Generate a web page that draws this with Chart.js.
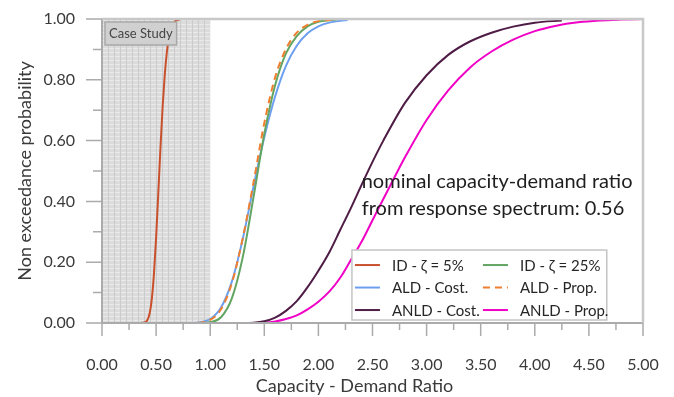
<!DOCTYPE html>
<html>
<head>
<meta charset="utf-8">
<script src="https://cdn.jsdelivr.net/npm/chart.js@4.4.0/dist/chart.umd.min.js"></script>
<style>
  html, body { margin: 0; padding: 0; background: #fff; }
</style>
</head>
<body>
<canvas id="cdf" width="674" height="397"></canvas>
<script>
// capacity-demand ratio (x) vs non exceedance probability (p)
const seriesLabels = ['ID - ζ = 5%', 'ID - ζ = 25%', 'ALD - Cost.', 'ALD - Prop.', 'ANLD - Cost.', 'ANLD - Prop.'];

const id5X = [0, 0.35, 0.40, 0.42, 0.44, 0.46, 0.48, 0.50, 0.52, 0.54, 0.56, 0.58, 0.60, 0.62, 0.65, 0.68, 0.72];
const id5P = [0, 0, 0.003, 0.010, 0.031, 0.078, 0.161, 0.280, 0.425, 0.574, 0.709, 0.816, 0.893, 0.942, 0.979, 0.994, 0.999];

const id25X = [0, 0.9, 1.0, 1.1, 1.2, 1.3, 1.4, 1.5, 1.6, 1.7, 1.8, 1.9, 2.0, 2.1, 2.17];
const id25P = [0, 0, 0.003, 0.019, 0.081, 0.215, 0.413, 0.622, 0.782, 0.887, 0.944, 0.976, 0.991, 0.996, 0.998];

const aldCostX = [0, 0.8, 0.9, 1.0, 1.1, 1.2, 1.3, 1.4, 1.5, 1.6, 1.7, 1.8, 1.9, 2.0, 2.1, 2.2, 2.27];
const aldCostP = [0, 0, 0.002, 0.013, 0.051, 0.136, 0.275, 0.448, 0.611, 0.745, 0.846, 0.912, 0.953, 0.976, 0.988, 0.994, 0.997];

const aldPropX = [0, 0.85, 0.9, 1.0, 1.1, 1.2, 1.3, 1.4, 1.5, 1.6, 1.7, 1.8, 1.9, 2.0, 2.1, 2.17];
const aldPropP = [0, 0, 0.001, 0.010, 0.045, 0.131, 0.278, 0.462, 0.658, 0.808, 0.901, 0.955, 0.981, 0.993, 0.997, 0.999];

const anldCostX = [0, 1.3, 1.4, 1.5, 1.6, 1.7, 1.8, 1.9, 2.0, 2.1, 2.2, 2.3, 2.4, 2.5, 2.6, 2.8, 3.0, 3.2, 3.4, 3.6, 3.8, 4.0, 4.25];
const anldCostP = [0, 0, 0.001, 0.006, 0.018, 0.040, 0.072, 0.118, 0.172, 0.232, 0.305, 0.378, 0.455, 0.530, 0.600, 0.724, 0.815, 0.882, 0.926, 0.955, 0.975, 0.988, 0.995];

const anldPropX = [0, 1.4, 1.5, 1.6, 1.7, 1.8, 1.9, 2.0, 2.1, 2.2, 2.3, 2.4, 2.5, 2.6, 2.7, 2.8, 3.0, 3.2, 3.4, 3.6, 3.8, 4.0, 4.2, 4.4, 4.6, 4.8, 5.0];
const anldPropP = [0, 0, 0.001, 0.005, 0.013, 0.025, 0.045, 0.070, 0.103, 0.148, 0.207, 0.268, 0.338, 0.408, 0.477, 0.545, 0.668, 0.765, 0.840, 0.893, 0.932, 0.960, 0.978, 0.989, 0.995, 0.998, 1.0];

const xTicks = [0, 0.5, 1, 1.5, 2, 2.5, 3, 3.5, 4, 4.5, 5];
const yTicks = [0, 0.2, 0.4, 0.6, 0.8, 1];
const caseStudyRange = [0, 1.0];
const noteLines = ['nominal capacity-demand ratio', 'from response spectrum: 0.56'];

const colors = ['#c9502c', '#62a462', '#6d9ff0', '#ee7f30', '#4e1c45', '#f000c6'];
const xs = [id5X, id25X, aldCostX, aldPropX, anldCostX, anldPropX];
const ps = [id5P, id25P, aldCostP, aldPropP, anldCostP, anldPropP];

const datasets = seriesLabels.map((label, i) => ({
  label: label,
  data: xs[i].map((x, j) => ({ x: x, y: ps[i][j] })),
  showLine: true,
  borderColor: colors[i],
  backgroundColor: colors[i],
  borderWidth: 2,
  borderDash: i === 3 ? [7, 5] : [],
  pointRadius: 0,
  cubicInterpolationMode: 'monotone',
  order: i === 3 ? 0 : 1 + i
}));

const FONT = 'Lato';
const TEXT = '#3a3a3a';
const AXIS = '#ababab';

function makePattern(ctx) {
  const tile = document.createElement('canvas');
  tile.width = 6; tile.height = 4;
  const t = tile.getContext('2d');
  t.fillStyle = '#dbdbdb';
  t.fillRect(0, 0, 6, 4);
  t.fillStyle = '#eaeaea';
  t.fillRect(0, 0, 6, 1);
  t.fillStyle = '#cbcbcb';
  t.fillRect(0, 0, 1, 4);
  return ctx.createPattern(tile, 'repeat');
}

const decor = {
  id: 'decor',
  beforeDatasetsDraw(chart) {
    const { ctx, chartArea: a, scales: { x } } = chart;
    const x0 = x.getPixelForValue(caseStudyRange[0]);
    const x1 = x.getPixelForValue(caseStudyRange[1]);
    ctx.save();
    ctx.fillStyle = makePattern(ctx);
    ctx.fillRect(x0, a.top, x1 - x0, a.bottom - a.top);
    ctx.restore();
  },
  afterDatasetsDraw(chart) {
    const { ctx, chartArea: a, scales: { x, y } } = chart;
    ctx.save();

    // case study tag
    const bx = x.getPixelForValue(caseStudyRange[0]) + 3;
    const by = a.top + 3;
    ctx.font = '13px ' + FONT;
    const tw = ctx.measureText('Case Study').width;
    ctx.fillStyle = '#d0d0d0';
    ctx.fillRect(bx, by, tw + 8, 23);
    ctx.strokeStyle = '#a9a9a9';
    ctx.lineWidth = 1.5;
    ctx.strokeRect(bx, by, tw + 8, 23);
    ctx.fillStyle = '#444';
    ctx.textBaseline = 'middle';
    ctx.fillText('Case Study', bx + 4, by + 12);

    // note
    ctx.font = '20px ' + FONT;
    ctx.fillStyle = '#1e1e1e';
    ctx.textBaseline = 'alphabetic';
    ctx.fillText(noteLines[0], x.getPixelForValue(2.40), y.getPixelForValue(0.444));
    ctx.fillText(noteLines[1], x.getPixelForValue(2.40), y.getPixelForValue(0.355));

    // legend, two columns
    const lx = x.getPixelForValue(2.31);
    const ly = y.getPixelForValue(0.24);
    const lw = x.getPixelForValue(4.665) - lx;
    const lh = a.bottom - 3 - ly;
    ctx.fillStyle = '#fff';
    ctx.fillRect(lx, ly, lw, lh);
    ctx.strokeStyle = '#c4c4c4';
    ctx.lineWidth = 1.5;
    ctx.strokeRect(lx, ly, lw, lh);
    ctx.font = '15px ' + FONT;
    ctx.textBaseline = 'middle';
    chart.data.datasets.forEach((ds, i) => {
      const col = i % 2, row = Math.floor(i / 2);
      const sx = lx + 3 + col * 128;
      const sy = ly + 15 + row * 22.5;
      ctx.strokeStyle = ds.borderColor;
      ctx.lineWidth = 2;
      ctx.setLineDash(ds.borderDash);
      ctx.beginPath();
      ctx.moveTo(sx, sy);
      ctx.lineTo(sx + 25, sy);
      ctx.stroke();
      ctx.setLineDash([]);
      ctx.fillStyle = '#262626';
      ctx.fillText(ds.label, sx + 37, sy + 1);
    });
    ctx.restore();
  },
  afterDraw(chart) {
    const { ctx, chartArea: a, scales: { x, y } } = chart;
    ctx.save();
    ctx.strokeStyle = AXIS;
    ctx.lineWidth = 1.5;
    ctx.beginPath();
    // major and minor ticks
    for (let v = 0; v <= 10; v++) {
      const py = y.getPixelForValue(v / 10);
      ctx.moveTo(a.left - (v % 2 === 0 ? 16 : 9), py);
      ctx.lineTo(a.left, py);
    }
    for (let v = 0; v <= 20; v++) {
      const px = x.getPixelForValue(v / 4);
      ctx.moveTo(px, a.bottom);
      ctx.lineTo(px, a.bottom + (v % 2 === 0 ? 13 : 7));
    }
    ctx.stroke();

    // axis lines
    ctx.lineWidth = 2;
    ctx.beginPath();
    ctx.moveTo(a.left, a.top);
    ctx.lineTo(a.left, a.bottom);
    ctx.lineTo(a.right, a.bottom);
    ctx.stroke();
    ctx.strokeStyle = '#c8c8c8';
    ctx.lineWidth = 2.5;
    ctx.beginPath();
    ctx.moveTo(a.left, a.top);
    ctx.lineTo(a.right, a.top);
    ctx.lineTo(a.right, a.bottom);
    ctx.stroke();

    // axis titles
    ctx.fillStyle = TEXT;
    ctx.font = '18px ' + FONT;
    ctx.textAlign = 'center';
    ctx.textBaseline = 'middle';
    ctx.fillText('Capacity - Demand Ratio', (a.left + a.right) / 2 - 18, 386);
    ctx.translate(25, (a.top + a.bottom) / 2);
    ctx.rotate(-Math.PI / 2);
    ctx.fillText('Non exceedance probability', 0, 0);
    ctx.restore();
  }
};

Chart.defaults.font.family = FONT;

new Chart(document.getElementById('cdf'), {
  type: 'scatter',
  data: { datasets: datasets },
  options: {
    responsive: false,
    animation: false,
    devicePixelRatio: 1,
    layout: { padding: { left: 0, right: 31, top: 19, bottom: 0 } },
    plugins: { legend: { display: false }, tooltip: { enabled: false } },
    scales: {
      x: {
        type: 'linear', min: 0, max: 5,
        grid: { display: false, drawTicks: false, tickLength: 0 },
        border: { display: false },
        afterBuildTicks: s => { s.ticks = xTicks.map(v => ({ value: v })); },
        ticks: { padding: 32, color: TEXT, font: { size: 16 }, maxRotation: 0, autoSkip: false, callback: v => v.toFixed(2) },
        afterFit: s => { s.height = 74; s.paddingLeft = 0; s.paddingRight = 0; }
      },
      y: {
        min: 0, max: 1,
        grid: { display: false, drawTicks: false, tickLength: 0 },
        border: { display: false },
        afterBuildTicks: s => { s.ticks = yTicks.map(v => ({ value: v })); },
        ticks: { padding: 27, color: TEXT, font: { size: 16 }, callback: v => v.toFixed(2) },
        afterFit: s => { s.width = 102; s.paddingTop = 0; s.paddingBottom = 0; }
      }
    }
  },
  plugins: [decor]
});
</script>
</body>
</html>
